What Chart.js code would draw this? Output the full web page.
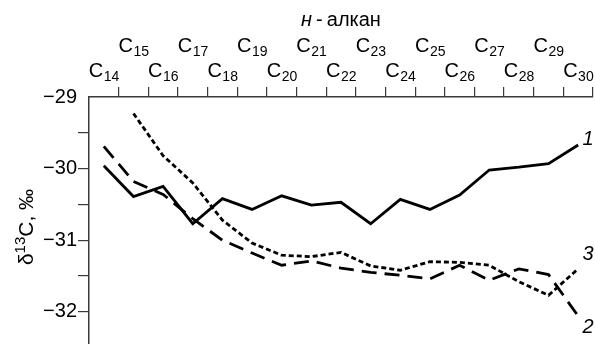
<!DOCTYPE html>
<html>
<head>
<meta charset="utf-8">
<script src="https://cdn.jsdelivr.net/npm/chart.js@4.4.1/dist/chart.umd.min.js"></script>
<style>
  html, body { margin: 0; padding: 0; background: #fff; }
</style>
</head>
<body>
<canvas id="grafico" width="595" height="344"></canvas>
<script>
// Dados (δ13C, ‰ por n-alcano)
const carbonNumbers = [14, 15, 16, 17, 18, 19, 20, 21, 22, 23, 24, 25, 26, 27, 28, 29, 30];
const serie1 = [-29.96, -30.39, -30.25, -30.77, -30.42, -30.57, -30.38, -30.51, -30.47, -30.77, -30.43, -30.57, -30.37, -30.02, -29.98, -29.93, -29.67];
const serie2 = [-29.69, -30.18, -30.36, -30.70, -31.00, -31.18, -31.35, -31.29, -31.39, -31.45, -31.49, -31.54, -31.35, -31.56, -31.40, -31.48, -32.06];
const serie3 = [null, -29.23, -29.82, -30.20, -30.72, -31.04, -31.21, -31.23, -31.17, -31.36, -31.42, -31.30, -31.31, -31.35, -31.58, -31.77, -31.40];
const seriesLabels = ['1', '2', '3'];
const yTickValues = [-32, -31.5, -31, -30.5, -30, -29.5, -29];

const FONT = '"Liberation Sans", Arial, sans-serif';
const AXIS_COLOR = '#3a3a3a';

// deslocamento do rótulo de cada série em relação ao último ponto
const labelOffsets = [
    { dx: 10, dy: -6 },
    { dx: 10, dy: 11 },
    { dx: 10, dy: -14 }
];

function minus(v) {
    return v < 0 ? '\u2212' + Math.abs(v) : String(v);
}

const textoExtra = {
    id: 'textoExtra',
    afterDraw(chart) {
        const ctx = chart.ctx;
        const xs = chart.scales.x;
        const area = chart.chartArea;
        ctx.save();
        ctx.fillStyle = '#000';
        ctx.textBaseline = 'alphabetic';
        ctx.textAlign = 'left';

        // rótulos C14 ... C30 em duas linhas
        carbonNumbers.forEach((n, i) => {
            const x = xs.getPixelForValue(i);
            const base = (i % 2 === 0) ? xs.bottom - 20 : xs.bottom - 45;
            ctx.font = '20px ' + FONT;
            const wC = ctx.measureText('C').width;
            ctx.font = '14px ' + FONT;
            const wN = ctx.measureText(String(n)).width;
            const x0 = x - (wC + wN) / 2;
            ctx.font = '20px ' + FONT;
            ctx.fillText('C', x0, base);
            ctx.font = '14px ' + FONT;
            ctx.fillText(String(n), x0 + wC + 0.5, base + 4);
        });

        // título do eixo x: н-алкан
        ctx.font = 'italic 20px ' + FONT;
        const wH = ctx.measureText('н').width;
        ctx.font = '20px ' + FONT;
        const rest = '\u2009-\u2009алкан';
        const wR = ctx.measureText(rest).width;
        const cx = (area.left + area.right) / 2;
        const tx = cx - (wH + wR) / 2;
        const ty = xs.bottom - 71;
        ctx.font = 'italic 20px ' + FONT;
        ctx.fillText('н', tx, ty);
        ctx.font = '20px ' + FONT;
        ctx.fillText(rest, tx + wH, ty);

        // título do eixo y: δ13C, ‰
        ctx.save();
        ctx.translate(33, 227);
        ctx.rotate(-Math.PI / 2);
        ctx.font = '21px ' + FONT;
        const wD = ctx.measureText('δ').width;
        const wT = ctx.measureText('C, ‰').width;
        ctx.font = '15px ' + FONT;
        const wS = ctx.measureText('13').width;
        let px = -(wD + wS + wT) / 2;
        ctx.font = '21px ' + FONT;
        ctx.fillText('δ', px, 0);
        px += wD;
        ctx.font = '15px ' + FONT;
        ctx.fillText('13', px, -8);
        px += wS;
        ctx.font = '21px ' + FONT;
        ctx.fillText('C, ‰', px, 0);
        ctx.restore();

        // números das curvas
        ctx.font = 'italic 20px ' + FONT;
        ctx.textAlign = 'center';
        ctx.textBaseline = 'middle';
        chart.data.datasets.forEach((ds, k) => {
            const meta = chart.getDatasetMeta(k);
            const last = meta.data[meta.data.length - 1];
            ctx.fillText(seriesLabels[k], last.x + labelOffsets[k].dx, last.y + labelOffsets[k].dy);
        });
        ctx.restore();
    }
};

const lineStyle = {
    borderColor: '#000',
    borderWidth: 2.8,
    pointRadius: 0,
    tension: 0,
    fill: false,
    spanGaps: false
};

new Chart(document.getElementById('grafico'), {
    type: 'line',
    data: {
        labels: carbonNumbers.map(String),
        datasets: [
            { ...lineStyle, label: seriesLabels[0], data: serie1 },
            { ...lineStyle, label: seriesLabels[1], data: serie2, borderDash: [15, 8] },
            { ...lineStyle, label: seriesLabels[2], data: serie3, borderDash: [5, 3] }
        ]
    },
    options: {
        responsive: false,
        animation: false,
        events: [],
        layout: { padding: { top: 87, right: 2, bottom: 0, left: 0 } },
        plugins: {
            legend: { display: false },
            tooltip: { enabled: false }
        },
        scales: {
            x: {
                type: 'category',
                position: 'top',
                offset: true,
                grid: {
                    offset: true,
                    drawOnChartArea: false,
                    drawTicks: true,
                    tickLength: 10,
                    lineWidth: 1.2,
                    color: (c) => c.index === 0 ? 'rgba(0,0,0,0)' : AXIS_COLOR
                },
                border: { display: true, color: AXIS_COLOR, width: 1.5 },
                ticks: { display: false }
            },
            y: {
                min: -32.45,
                max: -29,
                position: 'left',
                afterFit: (scale) => {
                    scale.width = 89;
                    scale.paddingTop = 0;
                    scale.paddingBottom = 0;
                },
                afterBuildTicks: (scale) => {
                    scale.ticks = yTickValues.map(v => ({ value: v }));
                },
                grid: {
                    drawOnChartArea: false,
                    drawTicks: true,
                    tickLength: 11,
                    lineWidth: 1.2,
                    color: (c) => (c.tick && c.tick.value === -29) ? 'rgba(0,0,0,0)' : AXIS_COLOR
                },
                border: { display: true, color: AXIS_COLOR, width: 1.5 },
                ticks: {
                    color: '#000',
                    padding: 1,
                    font: { family: FONT, size: 20 },
                    callback: (v) => Number.isInteger(v) ? minus(v) : ''
                }
            }
        }
    },
    plugins: [textoExtra]
});
</script>
</body>
</html>
